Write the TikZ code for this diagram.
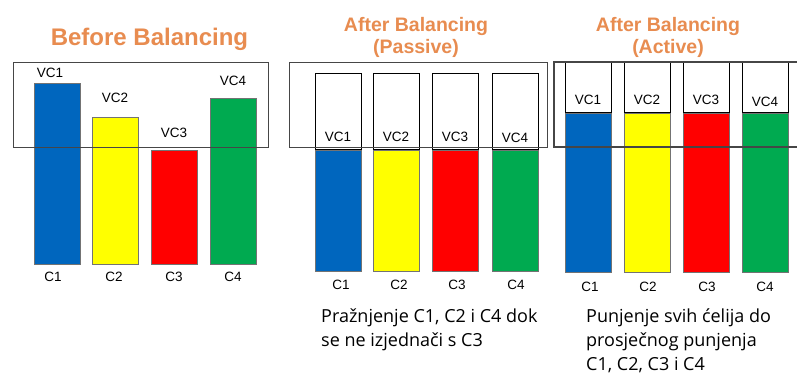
\documentclass[tikz,border=0pt]{standalone}
\usepackage{fontspec}
\setmainfont{Liberation Sans}
\newfontfamily\notefont{Open Sans}
\definecolor{cblue}{RGB}{0,102,190}
\definecolor{cyel}{RGB}{255,255,0}
\definecolor{cred}{RGB}{255,0,0}
\definecolor{cgreen}{RGB}{0,170,80}
\definecolor{ctitle}{RGB}{232,140,80}
\definecolor{cframe}{RGB}{70,70,70}
\begin{document}
\begin{tikzpicture}[x=1pt,y=-1pt,
  barbox/.style={draw=black!55, line width=0.6pt, inner sep=0pt, outer sep=0pt, anchor=north west, minimum width=46pt},
  topbox/.style={draw=black, line width=1pt, fill=white, inner sep=0pt, outer sep=0pt, anchor=north west, minimum width=46pt},
  framebox/.style={draw=cframe, line width=1.3pt},
  lbl/.style={inner sep=0pt, font=\fontsize{13.5}{15}\selectfont},
  bigtitle/.style={inner sep=0pt, text=ctitle, font=\bfseries\fontsize{24}{28}\selectfont},
  subtitle/.style={inner sep=0pt, text=ctitle, align=center, font=\bfseries\fontsize{19.5}{21.5}\selectfont},
  note/.style={inner sep=0pt, anchor=north west, align=left, font=\notefont\fontsize{18}{24}\selectfont}]
\useasboundingbox (0,0) rectangle (797,374);
\fill[white] (0,0) rectangle (797,374);

% ---------- Panel 1: Before Balancing ----------
\node[bigtitle] (t1) at (149.5,39) {Before Balancing};
\node[barbox, fill=cblue, minimum height=181pt] (a1) at (34,83) {};
\node[barbox, fill=cyel, minimum height=147pt] (a2) at (92,117) {};
\node[barbox, fill=cred, minimum height=114pt] (a3) at (151,150) {};
\node[barbox, fill=cgreen, minimum height=166pt] (a4) at (210,98) {};
\node[framebox, inner sep=0pt, anchor=north west, minimum width=255pt, minimum height=85pt] (f1) at (13,62) {};
\node[lbl] (av1) at (50,73) {VC1};
\node[lbl] (av2) at (115,98) {VC2};
\node[lbl] (av3) at (174,133) {VC3};
\node[lbl] (av4) at (233,81) {VC4};
\node[lbl] (ac1) at (53,277) {C1};
\node[lbl] (ac2) at (114,277) {C2};
\node[lbl] (ac3) at (174,277) {C3};
\node[lbl] (ac4) at (233,277) {C4};

% ---------- Panel 2: Passive ----------
\node[subtitle] (t2) at (416,37.5) {After Balancing\\(Passive)};
\node[topbox, minimum height=76pt] (pb1) at (315,74) {};
\node[topbox, minimum height=76pt] (pb2) at (373,74) {};
\node[topbox, minimum height=76pt] (pb3) at (432,74) {};
\node[topbox, minimum height=76pt] (pb4) at (492,74) {};
\node[framebox, inner sep=0pt, anchor=north west, minimum width=258pt, minimum height=85pt] (f2) at (289,62) {};
\node[barbox, fill=cblue, minimum height=121pt] (p1) at (315,150) {};
\node[barbox, fill=cyel, minimum height=121pt] (p2) at (373,150) {};
\node[barbox, fill=cred, minimum height=121pt] (p3) at (432,150) {};
\node[barbox, fill=cgreen, minimum height=121pt] (p4) at (492,150) {};
\node[lbl] (pv1) at (338,137) {VC1};
\node[lbl] (pv2) at (396,137) {VC2};
\node[lbl] (pv3) at (455,137) {VC3};
\node[lbl] (pv4) at (515,138) {VC4};
\node[lbl] (pc1) at (341,285) {C1};
\node[lbl] (pc2) at (399,285) {C2};
\node[lbl] (pc3) at (457,285) {C3};
\node[lbl] (pc4) at (516,285) {C4};
\node[note] (n2) at (321,308.5) {Pražnjenje C1, C2 i C4 dok\\se ne izjednači s C3};

% ---------- Panel 3: Active ----------
\node[subtitle] (t3) at (668,37.5) {After Balancing\\(Active)};
\node[topbox, minimum height=50pt] (ab1) at (565,63) {};
\node[topbox, minimum height=50pt] (ab2) at (624,63) {};
\node[topbox, minimum height=50pt] (ab3) at (683,63) {};
\node[topbox, minimum height=50pt] (ab4) at (742,63) {};
\node[barbox, fill=cblue, minimum height=159pt] (q1) at (565,113) {};
\node[barbox, fill=cyel, minimum height=159pt] (q2) at (624,113) {};
\node[barbox, fill=cred, minimum height=159pt] (q3) at (683,113) {};
\node[barbox, fill=cgreen, minimum height=159pt] (q4) at (742,113) {};
\coordinate (f3a) at (800,62);
\coordinate (f3b) at (554,147);
\coordinate (f3c) at (800,147);
\draw[framebox] (f3a) -| (f3b) -- (f3c);
\node[lbl] (qv1) at (588,100) {VC1};
\node[lbl] (qv2) at (647,100) {VC2};
\node[lbl] (qv3) at (706,100) {VC3};
\node[lbl] (qv4) at (765,102) {VC4};
\node[lbl] (qc1) at (590,287) {C1};
\node[lbl] (qc2) at (648,287) {C2};
\node[lbl] (qc3) at (707,287) {C3};
\node[lbl] (qc4) at (765,287) {C4};
\node[note] (n3) at (586,308.5) {Punjenje svih ćelija do\\prosječnog punjenja\\C1, C2, C3 i C4};
\end{tikzpicture}
\end{document}
